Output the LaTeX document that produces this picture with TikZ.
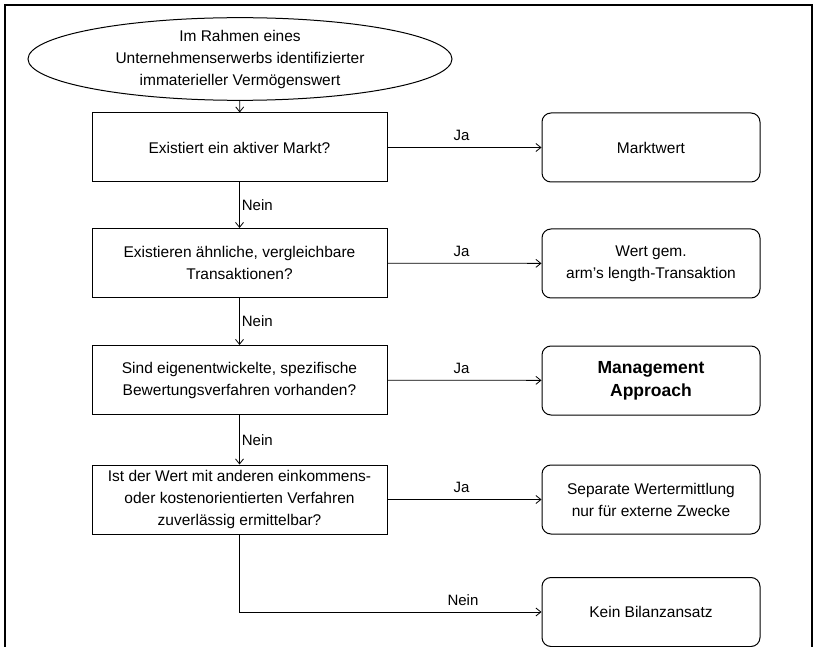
\documentclass[tikz,border=0pt]{standalone}
\usepackage{fontspec}
\setmainfont{Liberation Sans}
\usetikzlibrary{shapes.geometric,arrows.meta}
\begin{document}
\begin{tikzpicture}[x=1pt,y=-1pt,
  every node/.style={font=\fontsize{15.5}{22}\selectfont, align=center, inner sep=0pt},
  question/.style={draw, line width=1pt, rectangle, minimum width=295pt, minimum height=69pt},
  outcome/.style={draw, line width=1pt, rectangle, rounded corners=9pt, minimum width=218pt, minimum height=69pt},
  flow/.style={draw, line width=0.8pt, -{Straight Barb[length=5pt,width=8pt]}},
  lbl/.style={font=\fontsize{15}{18}\selectfont}
]
\useasboundingbox (0,0) rectangle (817,647);
% outer frame, running past the lower edge
\draw[line width=1.1pt] (5,660) -- (5,5) -- (812,5) -- (812,660);

\node[draw, ellipse, line width=1pt, minimum width=424pt, minimum height=76pt] (start) at (240,59)
  {Im Rahmen eines\\Unternehmenserwerbs identifizierter\\immaterieller Vermögenswert};

\node[question] (q1) at (239.5,147.5) {Existiert ein aktiver Markt?};
\node[question] (q2) at (239.5,263) {Existieren ähnliche, vergleichbare\\Transaktionen?};
\node[question] (q3) at (239.5,380) {Sind eigenentwickelte, spezifische\\Bewertungsverfahren vorhanden?};
\node[question] (q4) at (239.5,499.5) {Ist der Wert mit anderen einkommens-\\oder kostenorientierten Verfahren\\zuverlässig ermittelbar?};

\node[outcome] (r1) at (651,147.5) {Marktwert};
\node[outcome] (r2) at (651,263.5) {Wert gem.\\arm's length-Transaktion};
\node[outcome, font=\bfseries\fontsize{17.5}{23}\selectfont] (r3) at (651,380.5) {Management\\Approach};
\node[outcome] (r4) at (651,499.5) {Separate Wertermittlung\\nur für externe Zwecke};
\node[outcome] (r5) at (651,612) {Kein Bilanzansatz};

% vertical "Nein" path
\draw[flow] (start) -- (q1);
\draw[flow] (q1) -- node[lbl, right=2pt, pos=0.5] {Nein} (q2);
\draw[flow] (q2) -- node[lbl, right=2pt, pos=0.5] {Nein} (q3);
\draw[flow] (q3) -- node[lbl, right=2pt, pos=0.5] {Nein} (q4);

% horizontal "Ja" branches
\draw[flow] (q1) -- node[lbl, above=6pt, pos=0.48] {Ja} (r1);
\draw[flow] (q2) -- node[lbl, above=6pt, pos=0.48] {Ja} (r2);
\draw[flow] (q3) -- node[lbl, above=6pt, pos=0.48] {Ja} (r3);
\draw[flow] (q4) -- node[lbl, above=6pt, pos=0.48] {Ja} (r4);

% final "Nein" branch
\coordinate (bend) at (q4.south |- r5.west);
\draw[flow] (q4.south) -- (bend) -- node[lbl, above=6pt, pos=0.74] {Nein} (r5.west);
\end{tikzpicture}
\end{document}
